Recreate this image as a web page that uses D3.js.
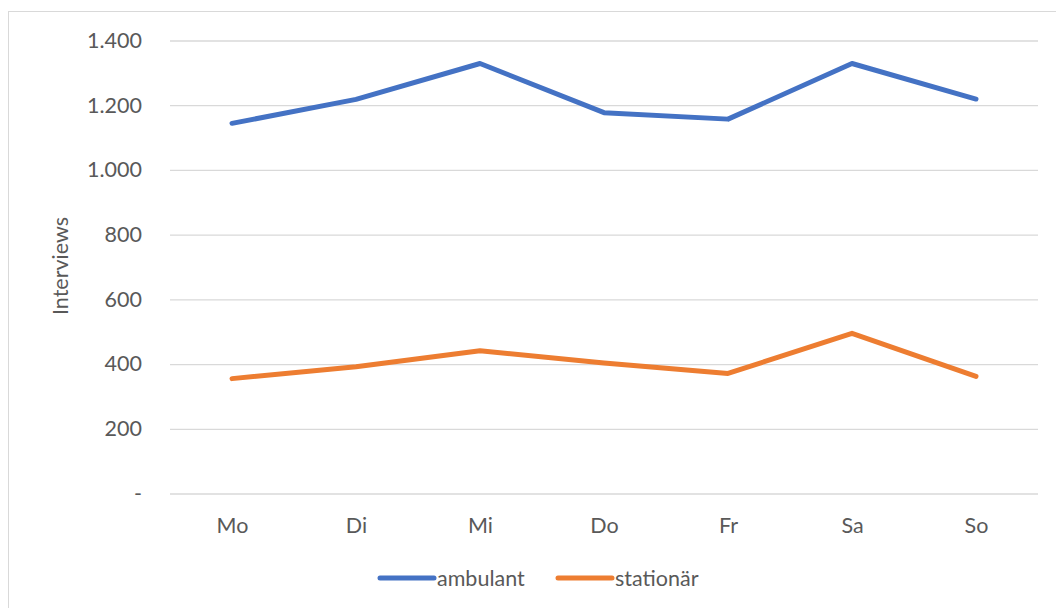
<!DOCTYPE html>
<html>
<head>
<meta charset="utf-8">
<script src="https://cdn.jsdelivr.net/npm/d3@7"></script>
<style>
  html, body { margin: 0; padding: 0; background: #fff; }
  svg { display: block; }
  text { font-family: Lato, "Open Sans", sans-serif; fill: #595959; }
</style>
</head>
<body>
<svg id="chart" width="1056" height="608"></svg>
<script>
// Interviews per weekday, split by care setting
const days = ["Mo", "Di", "Mi", "Do", "Fr", "Sa", "So"];
const ambulant = [1144, 1218, 1329, 1177, 1157, 1329, 1219];
const stationaer = [355, 392, 441, 403, 371, 495, 362];
const yTicks = [0, 200, 400, 600, 800, 1000, 1200, 1400];
const seriesNames = ["ambulant", "stationär"];
const seriesColors = ["#4472C4", "#ED7D31"];

const svg = d3.select("#chart");
const W = 1056, H = 608;
const FS = 21.5;

// chart frame
svg.append("rect")
  .attr("x", 8.5).attr("y", 11.5)
  .attr("width", W + 10).attr("height", H + 10)
  .attr("fill", "#fff").attr("stroke", "#d9d9d9").attr("stroke-width", 1);

const plot = { left: 170, right: 1038, top: 40.5, bottom: 493.5 };

const x = d3.scalePoint().domain(days).range([plot.left, plot.right]).padding(0.5);
const y = d3.scaleLinear().domain([0, 1400]).range([plot.bottom, plot.top]);

const de = d3.formatLocale({ decimal: ",", thousands: ".", grouping: [3], currency: ["", " €"] });
const fmt = v => v === 0 ? "-" : de.format(",")(v);

// horizontal gridlines with value labels
const yAxis = d3.axisLeft(y).tickValues(yTicks).tickFormat(fmt)
  .tickSize(-(plot.right - plot.left)).tickPadding(28);
const gy = svg.append("g").attr("transform", `translate(${plot.left},0)`).call(yAxis);
gy.select(".domain").remove();
gy.selectAll(".tick line").attr("stroke", "#d9d9d9").attr("stroke-width", 1.3);
gy.selectAll(".tick text").attr("font-size", FS).attr("fill", "#595959")
  .style("font-family", "Lato, 'Open Sans', sans-serif");

// category labels
const xAxis = d3.axisBottom(x).tickSize(0).tickPadding(24);
const gx = svg.append("g").attr("transform", `translate(0,${plot.bottom})`).call(xAxis);
gx.select(".domain").remove();
gx.selectAll(".tick text").attr("font-size", FS).attr("fill", "#595959")
  .style("font-family", "Lato, 'Open Sans', sans-serif");

// axis title
svg.append("text")
  .attr("transform", `translate(68,${(plot.top + plot.bottom) / 2 - 1}) rotate(-90)`)
  .attr("text-anchor", "middle")
  .attr("font-size", FS)
  .text("Interviews");

// series lines
const line = d3.line().x((d, i) => x(days[i])).y(d => y(d));
[ambulant, stationaer].forEach((vals, k) => {
  svg.append("path")
    .datum(vals)
    .attr("d", line)
    .attr("fill", "none")
    .attr("stroke", seriesColors[k])
    .attr("stroke-width", 5)
    .attr("stroke-linecap", "round")
    .attr("stroke-linejoin", "round");
});

// legend
const legendItems = [
  { name: seriesNames[0], color: seriesColors[0], x0: 380 },
  { name: seriesNames[1], color: seriesColors[1], x0: 558 }
];
const ly = 578;
legendItems.forEach(it => {
  svg.append("line")
    .attr("x1", it.x0).attr("x2", it.x0 + 54)
    .attr("y1", ly).attr("y2", ly)
    .attr("stroke", it.color).attr("stroke-width", 5).attr("stroke-linecap", "round");
  svg.append("text")
    .attr("x", it.x0 + 57).attr("y", ly + 8)
    .attr("font-size", FS)
    .text(it.name);
});
</script>
</body>
</html>
